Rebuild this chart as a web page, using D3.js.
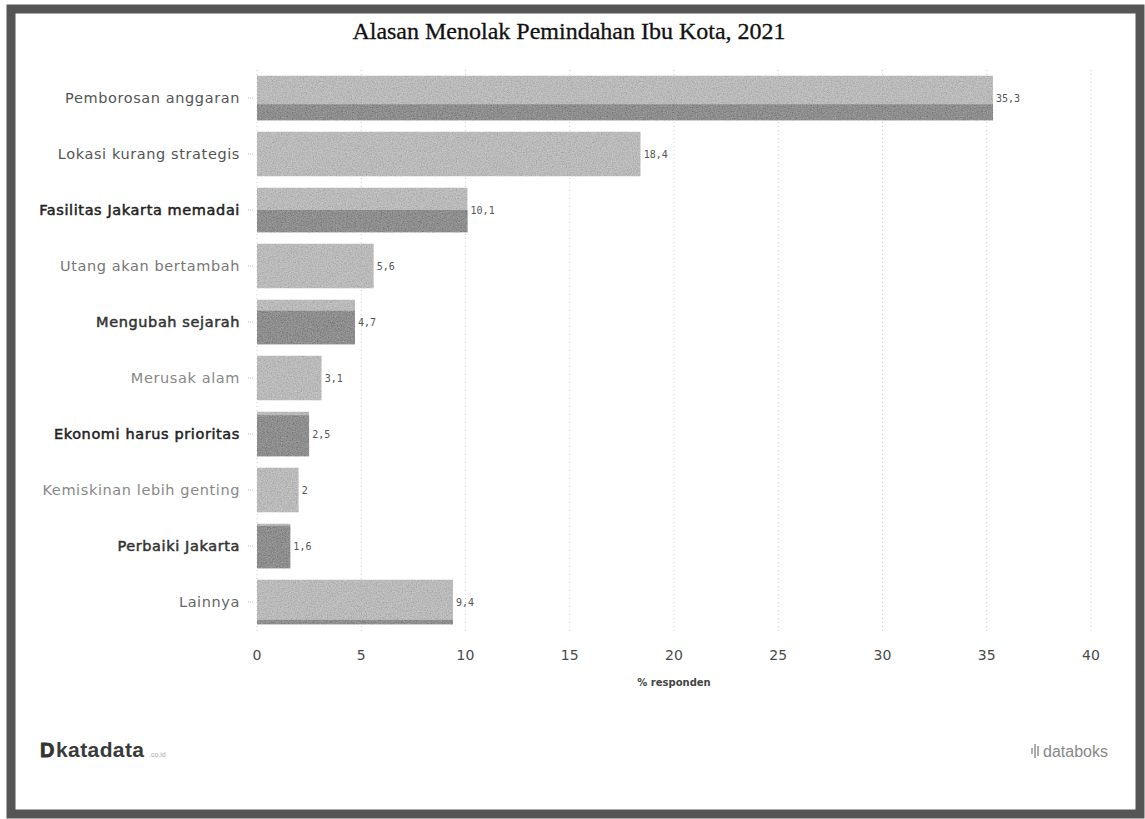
<!DOCTYPE html>
<html>
<head>
<meta charset="utf-8">
<script src="https://cdn.jsdelivr.net/npm/d3@7"></script>
<style>
    body { margin: 0; background: #fff; }
    #chart { width: 1145px; height: 819px; }
</style>
</head>
<body>
<div id="chart"></div>
<script>

// data (% responden)
const categories = [
    "Pemborosan anggaran",
    "Lokasi kurang strategis",
    "Fasilitas Jakarta memadai",
    "Utang akan bertambah",
    "Mengubah sejarah",
    "Merusak alam",
    "Ekonomi harus prioritas",
    "Kemiskinan lebih genting",
    "Perbaiki Jakarta",
    "Lainnya"
];
const values = [35.3, 18.4, 10.1, 5.6, 4.7, 3.1, 2.5, 2, 1.6, 9.4];
const xTicks = [0, 5, 10, 15, 20, 25, 30, 35, 40];

// scan look: share of each bar that is printed darker (from the bottom)
const darkShare = [0.36, 0, 0.5, 0, 0.75, 0, 0.92, 0, 0.95, 0.1];
const labelHeavy = [false, false, true, false, true, false, true, false, true, false];
const labelColor = ["#555", "#555", "#222", "#777", "#333", "#888", "#222", "#888", "#333", "#666"];

const W = 1145, H = 819;
const margin = {top: 70, right: 54, bottom: 189, left: 257};

const svg = d3.select("#chart").append("svg")
    .attr("width", W)
    .attr("height", H);

// grainy texture filter for the bars
const defs = svg.append("defs");
const grain = defs.append("filter").attr("id", "grain")
    .attr("x", 0).attr("y", 0).attr("width", 1).attr("height", 1);
grain.append("feTurbulence")
    .attr("type", "fractalNoise")
    .attr("baseFrequency", 0.8)
    .attr("numOctaves", 2)
    .attr("seed", 3)
    .attr("result", "noise");
grain.append("feColorMatrix")
    .attr("in", "noise")
    .attr("type", "saturate")
    .attr("values", 0)
    .attr("result", "gnoise");
grain.append("feComposite")
    .attr("in", "SourceGraphic")
    .attr("in2", "gnoise")
    .attr("operator", "arithmetic")
    .attr("k1", 0).attr("k2", 0.8).attr("k3", 0.6).attr("k4", -0.22)
    .attr("result", "mix");
grain.append("feComposite")
    .attr("in", "mix")
    .attr("in2", "SourceAlpha")
    .attr("operator", "in");

// frame
svg.append("rect")
    .attr("x", 11).attr("y", 9)
    .attr("width", W - 11 - 5).attr("height", H - 9 - 5)
    .attr("fill", "none")
    .attr("stroke", "#555")
    .attr("stroke-width", 9);

// title
svg.append("text")
    .attr("x", 569).attr("y", 39)
    .attr("text-anchor", "middle")
    .attr("font-family", "Liberation Serif, serif")
    .attr("font-size", 24)
    .attr("fill", "#111")
    .attr("stroke", "#111")
    .attr("stroke-width", 0.3)
    .text("Alasan Menolak Pemindahan Ibu Kota, 2021");

const x = d3.scaleLinear()
    .domain([0, 40])
    .range([margin.left, W - margin.right]);

const y = d3.scaleBand()
    .domain(categories)
    .range([margin.top, H - margin.bottom])
    .paddingInner(0.2)
    .paddingOuter(0.1);

// vertical dotted gridlines
svg.append("g")
    .selectAll("line")
    .data(xTicks)
    .join("line")
    .attr("x1", d => x(d)).attr("x2", d => x(d))
    .attr("y1", margin.top).attr("y2", H - margin.bottom + 2)
    .attr("stroke", "#ccc")
    .attr("stroke-dasharray", "1,3");

// category ticks on the left
svg.append("g")
    .selectAll("line")
    .data(categories)
    .join("line")
    .attr("x1", margin.left - 9).attr("x2", margin.left - 3)
    .attr("y1", d => y(d) + y.bandwidth() / 2)
    .attr("y2", d => y(d) + y.bandwidth() / 2)
    .attr("stroke", "#bbb")
    .attr("stroke-dasharray", "1,1");

// bars
const bars = svg.append("g")
    .selectAll("g")
    .data(categories)
    .join("g")
    .attr("filter", "url(#grain)");

bars.append("rect")
    .attr("x", x(0))
    .attr("y", d => y(d))
    .attr("width", (d, i) => x(values[i]) - x(0))
    .attr("height", y.bandwidth())
    .attr("fill", "#c6c6c6");

bars.append("rect")
    .attr("x", x(0))
    .attr("y", (d, i) => y(d) + y.bandwidth() * (1 - darkShare[i]))
    .attr("width", (d, i) => x(values[i]) - x(0))
    .attr("height", (d, i) => y.bandwidth() * darkShare[i])
    .attr("fill", "#999");

// value labels
svg.append("g")
    .selectAll("text")
    .data(categories)
    .join("text")
    .attr("x", (d, i) => x(values[i]) + 3)
    .attr("y", d => y(d) + y.bandwidth() / 2 + 4)
    .attr("font-family", "DejaVu Sans Mono, monospace")
    .attr("font-size", 10)
    .attr("fill", "#555")
    .text((d, i) => String(values[i]).replace(".", ","));

// category labels
svg.append("g")
    .selectAll("text")
    .data(categories)
    .join("text")
    .attr("x", margin.left - 17)
    .attr("y", d => y(d) + y.bandwidth() / 2 + 5)
    .attr("text-anchor", "end")
    .attr("font-family", "DejaVu Sans, sans-serif")
    .attr("font-size", 14.5)
    .attr("letter-spacing", 0.6)
    .attr("fill", (d, i) => labelColor[i])
    .attr("stroke", (d, i) => labelHeavy[i] ? labelColor[i] : "none")
    .attr("stroke-width", 0.5)
    .text(d => d);

// x tick labels
svg.append("g")
    .selectAll("text")
    .data(xTicks)
    .join("text")
    .attr("x", d => x(d))
    .attr("y", 660)
    .attr("text-anchor", "middle")
    .attr("font-family", "DejaVu Sans, sans-serif")
    .attr("font-size", 14)
    .attr("fill", "#4a4a4a")
    .text(d => d);

// axis title
svg.append("text")
    .attr("x", (x(0) + x(40)) / 2)
    .attr("y", 686)
    .attr("text-anchor", "middle")
    .attr("font-family", "DejaVu Sans, sans-serif")
    .attr("font-size", 10)
    .attr("font-weight", "bold")
    .attr("fill", "#444")
    .text("% responden");

// footer: katadata
const kd = svg.append("g").attr("transform", "translate(40,757)");
kd.append("text")
    .attr("font-family", "Liberation Sans, Arial, sans-serif")
    .attr("font-size", 20)
    .attr("font-weight", "bold")
    .attr("fill", "#333")
    .attr("stroke", "#333")
    .attr("stroke-width", 0.8)
    .text("D");
kd.append("text")
    .attr("x", 16)
    .attr("font-family", "Liberation Sans, Arial, sans-serif")
    .attr("font-size", 21)
    .attr("font-weight", "bold")
    .attr("letter-spacing", 0.4)
    .attr("fill", "#3a3a3a")
    .text("katadata");
kd.append("text")
    .attr("x", 109)
    .attr("font-family", "Liberation Sans, Arial, sans-serif")
    .attr("font-size", 7)
    .attr("fill", "#aaa")
    .text(".co.id");

// footer: databoks
const db = svg.append("g").attr("transform", "translate(1108,757)");
db.append("text")
    .attr("text-anchor", "end")
    .attr("font-family", "Liberation Sans, Arial, sans-serif")
    .attr("font-size", 16)
    .attr("fill", "#888")
    .text("databoks");
db.append("g")
    .selectAll("line")
    .data([[-76, -9, -3], [-73, -13, 1], [-70, -11, -1]])
    .join("line")
    .attr("x1", d => d[0]).attr("x2", d => d[0])
    .attr("y1", d => d[1]).attr("y2", d => d[2])
    .attr("stroke", "#999")
    .attr("stroke-width", 1.6);

</script>
</body>
</html>
